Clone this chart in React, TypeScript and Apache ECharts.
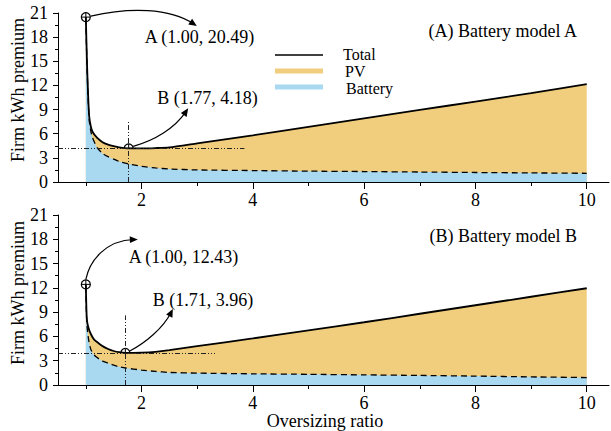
import React, { useEffect, useRef } from "react";
import * as echarts from "echarts";

// Panel A data (Battery model A)
const xA = [1.0, 1.02, 1.04, 1.06, 1.09, 1.12, 1.2, 1.3, 1.4, 1.5, 1.6, 1.77, 2.0, 2.25, 2.5, 3, 4, 5, 6, 7, 8, 9, 10];
const totalA = [20.49, 15.0, 11.0, 8.2, 6.9, 6.25, 5.5, 4.95, 4.65, 4.45, 4.3, 4.18, 4.18, 4.22, 4.3, 4.8, 5.8, 6.85, 7.9, 8.95, 10.0, 11.05, 12.15];
const batteryA = [20.3, 14.7, 10.6, 7.7, 6.3, 5.5, 4.3, 3.55, 3.15, 2.85, 2.55, 2.25, 1.95, 1.75, 1.62, 1.5, 1.42, 1.35, 1.3, 1.24, 1.18, 1.13, 1.08];

// Panel B data (Battery model B)
const xB = [1.0, 1.01, 1.02, 1.05, 1.09, 1.15, 1.24, 1.3, 1.4, 1.5, 1.6, 1.71, 2.0, 2.25, 2.5, 3, 4, 5, 6, 7, 8, 9, 10];
const totalB = [12.43, 9.5, 8.0, 7.0, 6.3, 5.6, 5.1, 4.8, 4.45, 4.2, 4.05, 3.96, 4.0, 4.1, 4.3, 4.8, 5.75, 6.75, 7.75, 8.8, 9.85, 10.9, 11.95];
const batteryB = [12.2, 9.2, 7.4, 5.6, 4.4, 3.7, 3.2, 2.95, 2.7, 2.45, 2.25, 2.1, 1.85, 1.68, 1.55, 1.47, 1.38, 1.32, 1.25, 1.18, 1.1, 1.0, 0.92];

// Annotated points
const pointA1 = [1.0, 20.49];
const pointB1 = [1.77, 4.18];
const pointA2 = [1.0, 12.43];
const pointB2 = [1.71, 3.96];

const xMajorTicks = [2, 4, 6, 8, 10];
const xMinorTicks = [1, 3, 5, 7, 9];
const panelTitles = ["(A) Battery model A", "(B) Battery model B"];
const legendNames = ["Total", "PV", "Battery"];

const PV_COLOR = "#F1CD7E";
const BAT_COLOR = "#A9D8F1";
const FONT = "Liberation Serif";

const zip = (xs: number[], ys: number[]) => xs.map((x, i) => [x, ys[i]]);

export default function App() {
  const ref = useRef<HTMLDivElement>(null);
  useEffect(() => {
    if (!ref.current) return;
    const chart = echarts.init(ref.current, null, { renderer: "svg" });
    const labelStyle = { fontFamily: FONT, fontSize: 18, color: "#000", lineHeight: 15 };
    const mkX = (gridIndex: number) => [
      {
        type: "value", gridIndex, min: 0.5, max: 10.4, position: "bottom",
        axisLine: { show: true, lineStyle: { color: "#000", width: 1 } },
        axisTick: { show: true, customValues: xMajorTicks, length: 7, lineStyle: { color: "#000" } },
        axisLabel: { show: true, customValues: xMajorTicks, margin: 10, ...labelStyle },
        splitLine: { show: false },
      },
      {
        type: "value", gridIndex, min: 0.5, max: 10.4, position: "bottom",
        axisLine: { show: false },
        axisTick: { show: true, customValues: xMinorTicks, length: 4, lineStyle: { color: "#000" } },
        axisLabel: { show: false },
        splitLine: { show: false },
      },
    ];
    const mkY = (gridIndex: number) => ({
      type: "value", gridIndex, min: 0, max: 21, interval: 3,
      axisLine: { show: true, lineStyle: { color: "#000", width: 1 } },
      axisTick: { show: true, length: 5, lineStyle: { color: "#000" } },
      minorTick: { show: true, splitNumber: 2, length: 3, lineStyle: { color: "#000" } },
      axisLabel: { margin: 10, ...labelStyle },
      splitLine: { show: false },
    });
    const refLine = { type: [5, 2, 1, 2, 1, 2], color: "#222", width: 1 };
    const mkSeries = (xi: number, yi: number, xs: number[], tot: number[], bat: number[], pt: number[], hEnd: number, vTop: number) => [
      {
        name: "PV", type: "line", xAxisIndex: xi, yAxisIndex: yi, data: zip(xs, tot),
        showSymbol: false, smooth: 0.2, lineStyle: { width: 0 },
        areaStyle: { color: PV_COLOR, opacity: 1 }, z: 2, silent: true,
      },
      {
        name: "Battery", type: "line", xAxisIndex: xi, yAxisIndex: yi, data: zip(xs, bat),
        showSymbol: false, smooth: 0.2, lineStyle: { color: "#000", width: 1.3, type: [6, 4] },
        areaStyle: { color: BAT_COLOR, opacity: 1 }, z: 3, silent: true,
      },
      {
        name: "Total", type: "line", xAxisIndex: xi, yAxisIndex: yi, data: zip(xs, tot),
        showSymbol: false, smooth: 0.2, lineStyle: { color: "#000", width: 1.8 }, z: 4, silent: true,
        markLine: {
          silent: true, symbol: "none", label: { show: false }, lineStyle: refLine,
          data: [
            [{ coord: [0.5, pt[1]] }, { coord: [hEnd, pt[1]] }],
            [{ coord: [pt[0], 0] }, { coord: [pt[0], vTop] }],
          ],
        },
      },
    ];
    chart.setOption({
      animation: false,
      grid: [
        { left: 58, right: 2, top: 13, height: 169 },
        { left: 58, right: 2, top: 215, height: 170 },
      ],
      xAxis: [...mkX(0), ...mkX(1)],
      yAxis: [mkY(0), mkY(1)],
      series: [
        ...mkSeries(0, 0, xA, totalA, batteryA, pointB1, 3.85, 7.7),
        ...mkSeries(2, 1, xB, totalB, batteryB, pointB2, 3.32, 8.6),
      ],
    });

    const px = (seriesIndex: number, p: number[]) => chart.convertToPixel({ seriesIndex }, p) as number[];
    const marker = (c: number[]) => ({
      type: "group", z: 20,
      children: [
        { type: "circle", shape: { cx: c[0], cy: c[1], r: 4.5 }, style: { fill: "rgba(255,255,255,0)", stroke: "#000", lineWidth: 1.2 } },
        { type: "line", shape: { x1: c[0] - 4.5, y1: c[1], x2: c[0] + 4.5, y2: c[1] }, style: { stroke: "#000", lineWidth: 1 } },
        { type: "line", shape: { x1: c[0], y1: c[1] - 4.5, x2: c[0], y2: c[1] + 4.5 }, style: { stroke: "#000", lineWidth: 1 } },
      ],
    });
    const arrow = (c: number[], s: number[], c1: number[], c2: number[], e: number[]) => {
      const x1 = c[0] + s[0], y1 = c[1] + s[1];
      const cx1 = c[0] + c1[0], cy1 = c[1] + c1[1];
      const cx2 = c[0] + c2[0], cy2 = c[1] + c2[1];
      const ex = c[0] + e[0], ey = c[1] + e[1];
      let dx = ex - cx2, dy = ey - cy2;
      const L = Math.hypot(dx, dy) || 1;
      dx /= L; dy /= L;
      const bx = ex - dx * 8, by = ey - dy * 8;
      const nx = -dy * 3.5, ny = dx * 3.5;
      return {
        type: "group", z: 20,
        children: [
          { type: "bezierCurve", shape: { x1, y1, cpx1: cx1, cpy1: cy1, cpx2: cx2, cpy2: cy2, x2: ex - dx * 4, y2: ey - dy * 4 }, style: { stroke: "#000", lineWidth: 1.2, fill: "none" } },
          { type: "polygon", shape: { points: [[ex, ey], [bx + nx, by + ny], [bx - nx, by - ny]] }, style: { fill: "#000" } },
        ],
      };
    };
    const txt = (x: number, y: number, text: string, align = "left", extra: any = {}, lh = 16, fs = 18) => ({
      type: "text", z: 20, x, y, ...extra,
      style: { text, fill: "#000", fontFamily: FONT, fontSize: fs, lineHeight: lh, align, verticalAlign: "middle" },
    });

    const a1 = px(2, pointA1), b1 = px(2, pointB1), a2 = px(5, pointA2), b2 = px(5, pointB2);
    const fmt = (p: number[]) => `(${p[0].toFixed(2)}, ${p[1].toFixed(2)})`;

    chart.setOption({
      graphic: [
        marker(a1), marker(b1), marker(a2), marker(b2),
        arrow(a1, [5, -1], [44, -10], [84, -9], [111, 9]),
        arrow(b1, [4.5, -2], [26, -8], [46, -20], [59.5, -40]),
        arrow(a2, [0, -5], [4, -24], [20, -44], [52, -45]),
        arrow(b2, [4.5, -2], [20, -10], [38, -25], [47.5, -44]),
        txt(a1[0] + 59, a1[1] + 20, "A " + fmt(pointA1)),
        txt(b1[0] + 28.5, b1[1] - 50, "B " + fmt(pointB1)),
        txt(a2[0] + 43, a2[1] - 27, "A " + fmt(pointA2)),
        txt(b2[0] + 27.5, b2[1] - 53, "B " + fmt(pointB2)),
        txt(577, 31, panelTitles[0], "right"),
        txt(577, 236, panelTitles[1], "right"),
        // legend
        { type: "line", z: 20, shape: { x1: 275, y1: 55, x2: 323, y2: 55 }, style: { stroke: "#000", lineWidth: 1.5 } },
        { type: "rect", z: 20, shape: { x: 275, y: 68.5, width: 48, height: 5 }, style: { fill: PV_COLOR } },
        { type: "rect", z: 20, shape: { x: 275, y: 84.5, width: 48, height: 5 }, style: { fill: BAT_COLOR } },
        txt(343, 54, legendNames[0], "left", {}, 14, 16),
        txt(345, 71, legendNames[1], "left", {}, 14, 16),
        txt(346, 88, legendNames[2], "left", {}, 14, 16),
        // axis names
        txt(18, 90, "Firm kWh premium", "center", { rotation: Math.PI / 2 }),
        txt(18, 293, "Firm kWh premium", "center", { rotation: Math.PI / 2 }),
        txt(325, 421, "Oversizing ratio", "center", {}, 15),
      ],
    });
    return () => chart.dispose();
  }, []);
  return <div ref={ref} style={{ position: "absolute", left: 0, top: 0, width: 611, height: 431 }} />;
}
